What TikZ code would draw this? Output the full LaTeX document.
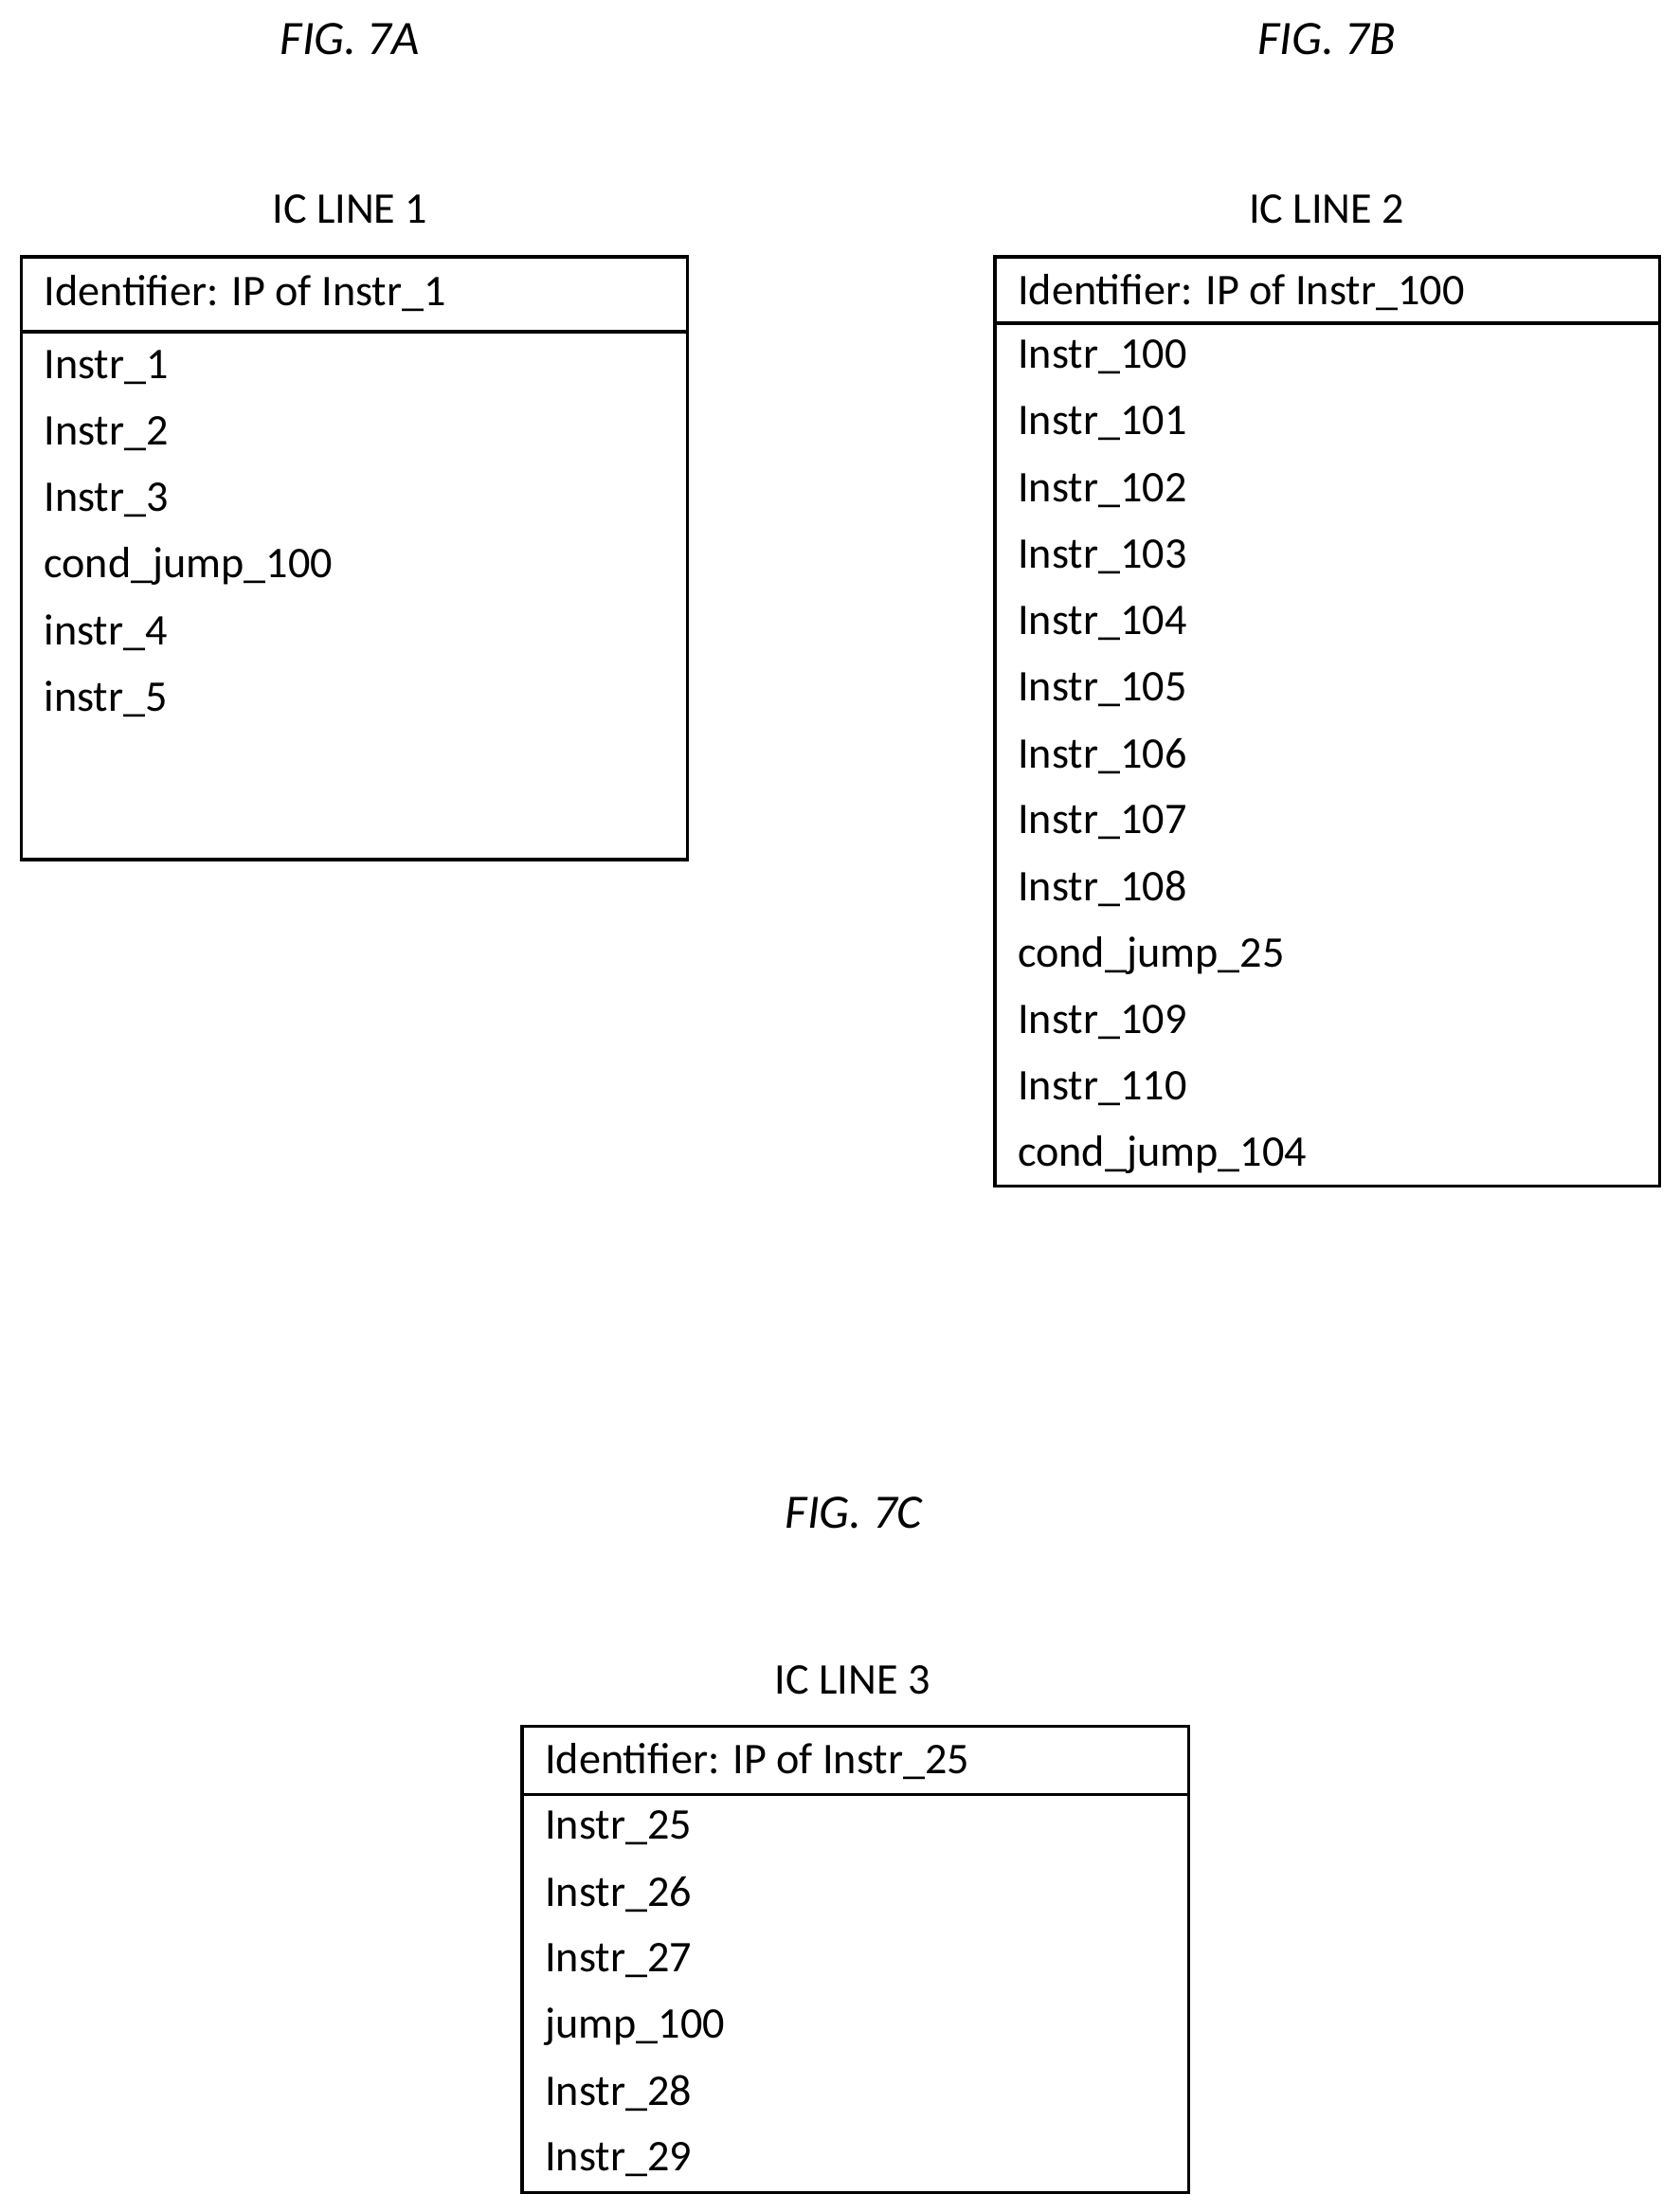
\documentclass[tikz,border=0pt]{standalone}
\usepackage{fontspec}
\setmainfont{Carlito}
\begin{document}
\begin{tikzpicture}[x=1pt,y=-1pt,
 box/.style={draw,line width=2.2pt},
 t/.style={anchor=west,font=\fontsize{31}{36}\selectfont,inner sep=0pt},
 captxt/.style={font=\fontsize{31}{36}\selectfont,inner sep=0pt},
 fig/.style={font=\fontsize{34}{40}\selectfont\itshape,inner sep=0pt}]
\useasboundingbox (0,0) rectangle (1190,1567);
\node[fig] (fa) at (248,28) {FIG. 7A};
\node[fig] (fb) at (940,28) {FIG. 7B};
\node[fig] (fc) at (605,1072) {FIG. 7C};
\node[captxt] (ca) at (248,148) {IC LINE 1};
\node[captxt] (cb) at (940,148) {IC LINE 2};
\node[captxt] (cc) at (604,1190) {IC LINE 3};
% A
\draw[box] (15,182) rectangle (487,609);
\draw[box] (15,235) -- (487,235);
\node[t] (ah) at (31,208) {Identifier: IP of Instr\_1};
\foreach \s [count=\i from 0] in {Instr\_1,Instr\_2,Instr\_3,cond\_jump\_100,instr\_4,instr\_5}
  \node[t] (a\i) at (31,260+47*\i) {\s};
% B
\draw[box] (705,182) rectangle (1176,840);
\draw[box] (705,229) -- (1176,229);
\node[t] (bh) at (721,207) {Identifier: IP of Instr\_100};
\foreach \s [count=\i from 0] in {Instr\_100,Instr\_101,Instr\_102,Instr\_103,Instr\_104,Instr\_105,Instr\_106,Instr\_107,Instr\_108,cond\_jump\_25,Instr\_109,Instr\_110,cond\_jump\_104}
  \node[t] (b\i) at (721,253+47.1*\i) {\s};
% C
\draw[box] (370,1223) rectangle (842,1553);
\draw[box] (370,1271) -- (842,1271);
\node[t] (ch) at (386,1248) {Identifier: IP of Instr\_25};
\foreach \s [count=\i from 0] in {Instr\_25,Instr\_26,Instr\_27,jump\_100,Instr\_28,Instr\_29}
  \node[t] (c\i) at (386,1295+47*\i) {\s};
\end{tikzpicture}
\end{document}
